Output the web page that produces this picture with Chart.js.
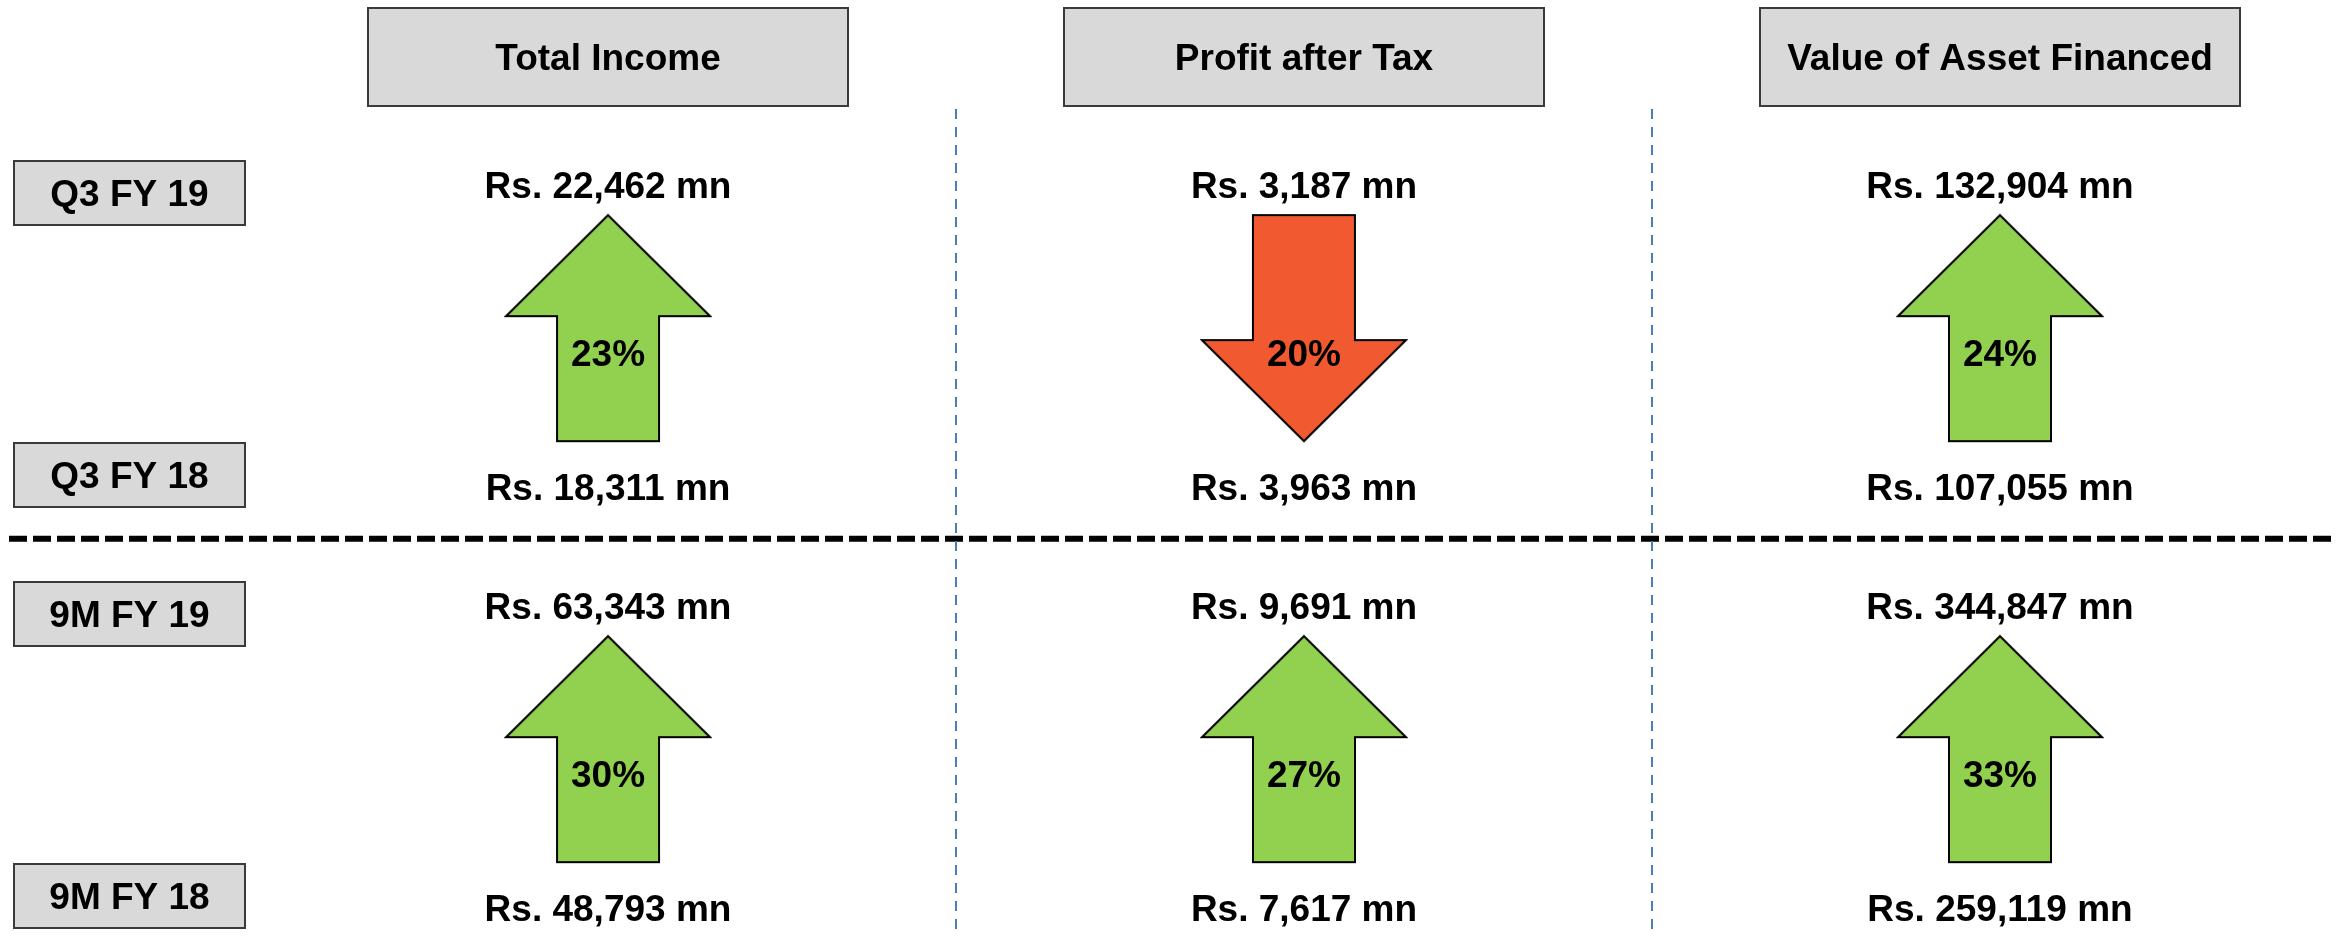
<!DOCTYPE html>
<html>
<head>
<meta charset="utf-8">
<script src="https://cdn.jsdelivr.net/npm/chart.js@4/dist/chart.umd.min.js"></script>
<style>
  body { margin: 0; background: #fff; }
  canvas { display: block; }
</style>
</head>
<body>
<canvas id="myChart" width="2336" height="937"></canvas>
<script>
// Werte (Rs. mn) und Veränderung in %
const metrics = ["Total Income", "Profit after Tax", "Value of Asset Financed"];
const currentPeriods = ["Q3 FY 19", "9M FY 19"];
const previousPeriods = ["Q3 FY 18", "9M FY 18"];

const q3Current = [22462, 3187, 132904];
const q3Previous = [18311, 3963, 107055];
const q3Growth = [23, -20, 24];

const nineMCurrent = [63343, 9691, 344847];
const nineMPrevious = [48793, 7617, 259119];
const nineMGrowth = [30, 27, 33];

const currentValues = [q3Current, nineMCurrent];
const previousValues = [q3Previous, nineMPrevious];
const growthValues = [q3Growth, nineMGrowth];

// Ebenen auf der y-Achse (1 = ein Block)
const arrowLevel = 0.34;
const previousLevel = 0.717;
const separatorLevel = 0.84;
const boxCurrentLevel = 0.019;
const boxPreviousLevel = 0.689;

const FONT = 'bold 37px "Liberation Sans", Arial, sans-serif';
const GREEN = "#92D050";
const RED = "#F15A31";

// Pfeil als Bild (zeigt nach oben, rot wird gedreht)
function makeArrow(color) {
  const headW = 204, headH = 101, shaftW = 102, len = 226, m = 2;
  const c = document.createElement("canvas");
  c.width = headW + 2 * m;
  c.height = len + 2 * m;
  const g = c.getContext("2d");
  const cx = c.width / 2, top = m, bottom = m + len;
  g.beginPath();
  g.moveTo(cx, top);
  g.lineTo(cx + headW / 2, top + headH);
  g.lineTo(cx + shaftW / 2, top + headH);
  g.lineTo(cx + shaftW / 2, bottom);
  g.lineTo(cx - shaftW / 2, bottom);
  g.lineTo(cx - shaftW / 2, top + headH);
  g.lineTo(cx - headW / 2, top + headH);
  g.closePath();
  g.fillStyle = color;
  g.fill();
  g.lineWidth = 2;
  g.strokeStyle = "#000";
  g.stroke();
  return c;
}
const upArrow = makeArrow(GREEN);
const downArrow = makeArrow(RED);

function fmt(v) {
  return "Rs. " + v.toLocaleString("en-US") + " mn";
}

function drawBox(ctx, x, y, w, h, text) {
  ctx.fillStyle = "#D9D9D9";
  ctx.fillRect(x, y, w, h);
  ctx.lineWidth = 2;
  ctx.strokeStyle = "#3a3a3a";
  ctx.strokeRect(x, y, w, h);
  ctx.fillStyle = "#000";
  ctx.font = FONT;
  ctx.textAlign = "center";
  ctx.textBaseline = "alphabetic";
  ctx.fillText(text, x + w / 2, y + h / 2 + 13);
}

const layoutPlugin = {
  id: "layoutPlugin",
  beforeDatasetsDraw(chart) {
    const { ctx, chartArea } = chart;
    const x = chart.scales.x, y = chart.scales.y;
    ctx.save();

    // Trennlinie zwischen Q3 und 9M
    const sy = y.getPixelForValue(separatorLevel);
    ctx.strokeStyle = "#000";
    ctx.lineWidth = 6;
    ctx.setLineDash([18, 6]);
    ctx.beginPath();
    ctx.moveTo(chartArea.left + 9, sy);
    ctx.lineTo(chartArea.right, sy);
    ctx.stroke();

    // blaue Spaltentrenner
    ctx.strokeStyle = "#4A7EBB";
    ctx.lineWidth = 2;
    ctx.setLineDash([10, 8]);
    for (let i = 0; i < metrics.length - 1; i++) {
      const dx = Math.round(x.getPixelForValue(i + 0.5));
      ctx.beginPath();
      ctx.moveTo(dx, chartArea.top + 109);
      ctx.lineTo(dx, chartArea.bottom);
      ctx.stroke();
    }
    ctx.setLineDash([]);

    // Kopfzeilen
    metrics.forEach((m, i) => {
      const cx = x.getPixelForValue(i);
      drawBox(ctx, Math.round(cx - 240), chartArea.top + 8, 480, 98, m);
    });

    // Zeilenbeschriftungen links
    currentPeriods.forEach((p, b) => {
      const y1 = y.getPixelForValue(b + boxCurrentLevel);
      const y2 = y.getPixelForValue(b + boxPreviousLevel);
      drawBox(ctx, chartArea.left + 14, Math.round(y1 - 32), 231, 64, p);
      drawBox(ctx, chartArea.left + 14, Math.round(y2 - 32), 231, 64, previousPeriods[b]);
    });
    ctx.restore();
  },
  afterDatasetsDraw(chart) {
    const { ctx } = chart;
    const y = chart.scales.y;
    ctx.save();
    ctx.fillStyle = "#000";
    ctx.font = FONT;
    ctx.textAlign = "center";
    ctx.textBaseline = "alphabetic";
    chart.data.datasets.forEach((ds, b) => {
      chart.getDatasetMeta(b).data.forEach((pt, i) => {
        const g = growthValues[b][i];
        ctx.fillText(Math.abs(g) + "%", pt.x, pt.y + 25 + 13);
        ctx.fillText(fmt(currentValues[b][i]), pt.x, y.getPixelForValue(b) + 13);
        ctx.fillText(fmt(previousValues[b][i]), pt.x, y.getPixelForValue(b + previousLevel) + 13);
      });
    });
    ctx.restore();
  },
};

const datasets = growthValues.map((growth, b) => ({
  label: currentPeriods[b],
  data: growth.map((g, i) => ({ x: i, y: b + arrowLevel, g: g })),
  pointRadius: 10,
  pointStyle: (c) => (c.raw && c.raw.g < 0 ? downArrow : upArrow),
  rotation: (c) => (c.raw && c.raw.g < 0 ? 180 : 0),
}));

new Chart("myChart", {
  type: "scatter",
  data: { datasets: datasets },
  options: {
    responsive: false,
    devicePixelRatio: 1,
    animation: false,
    events: [],
    layout: { padding: 0, autoPadding: false },
    plugins: {
      legend: { display: false },
      tooltip: { enabled: false },
    },
    scales: {
      x: { type: "linear", display: false, min: -0.8736, max: 2.4828 },
      y: { type: "linear", display: false, reverse: true, min: -0.4394, max: 1.7862 },
    },
  },
  plugins: [layoutPlugin],
});
</script>
</body>
</html>
